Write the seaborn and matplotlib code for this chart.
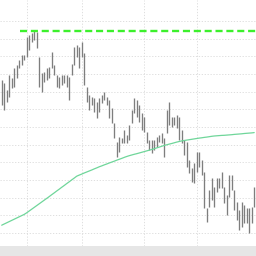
import numpy as np
import pandas as pd
import matplotlib
matplotlib.use("Agg")
import matplotlib.pyplot as plt
import matplotlib.transforms as mtrans
import seaborn as sns

# ---- data (price units) ----
highs = [170, 167, 160, 175, 172, 182, 185, 190, 195, 195, 213, 215, 217, 220, 218,
         193, 177, 178, 182, 183, 198, 185, 175, 173, 175, 175, 175, 173, 186, 203,
         205, 203, 208, 197, 163, 155, 153, 152, 148, 152, 155, 158, 153, 150, 142,
         127, 108, 113, 112, 120, 115, 125, 140, 152, 150, 145, 137, 133, 118, 110,
         110, 110, 113, 115, 117, 112, 140, 148, 133, 133, 135, 133, 120, 110, 108,
         90, 82, 87, 98, 98, 90, 78, 42, 60, 72, 63, 72, 72, 78, 63,
         55, 75, 75, 60, 48, 40, 48, 45, 42, 42, 43, 63]
lows = [145, 140, 148, 153, 162, 163, 172, 182, 185, 190, 193, 200, 208, 210, 202,
        163, 158, 168, 170, 172, 182, 175, 163, 162, 165, 167, 163, 150, 175, 185,
        193, 182, 193, 165, 148, 140, 145, 138, 132, 138, 147, 150, 145, 132, 127,
        112, 93, 98, 107, 107, 107, 110, 127, 137, 133, 128, 120, 118, 107, 100,
        97, 100, 103, 108, 107, 93, 117, 125, 123, 125, 122, 110, 107, 95, 83,
        77, 68, 67, 78, 83, 75, 42, 28, 43, 50, 43, 58, 62, 62, 47,
        35, 53, 60, 40, 30, 20, 23, 27, 27, 17, 27, 43]
moving_avg = [24.8, 26.0, 27.2, 28.4, 29.6, 30.8, 32.0, 33.2, 34.4, 35.6,
              37.2, 39.0, 40.8, 42.6, 44.4, 46.2, 48.0, 49.8, 51.6, 53.4,
              55.3, 57.1, 59.0, 60.8, 62.7, 64.5, 66.4, 68.2, 70.1, 71.9,
              73.8, 74.9, 75.9, 77.0, 78.0, 79.0, 80.0, 81.1, 82.1, 83.2,
              84.1, 85.1, 86.0, 87.0, 87.9, 88.8, 89.8, 90.7, 91.6, 92.6,
              93.5, 94.3, 95.0, 95.7, 96.3, 97.0, 97.7, 98.4, 99.1, 99.8,
              100.5, 101.3, 102.1, 102.9, 103.7, 104.6, 105.2, 105.9, 106.5, 107.2,
              107.9, 108.5, 109.1, 109.5, 109.9, 110.3, 110.7, 111.1, 111.5, 111.9,
              112.2, 112.6, 112.9, 113.3, 113.7, 114.0, 114.2, 114.4, 114.6, 114.7,
              114.9, 115.1, 115.3, 115.6, 115.8, 116.0, 116.2, 116.5, 116.7, 116.9,
              117.1, 117.4]
resistance_level = 219
resistance_start = 7.3
tick_positions = [10, 32, 57, 78]
tick_labels = ["01-Jul-23", "01-Ago-23", "01-Sep-23", "01-Oct-23"]
grid_levels = [17, 34.7, 52.3, 70, 87.7, 105.3, 123, 140.7, 158.3, 176, 193.7, 211.3, 229]

n = len(highs)
idx = np.arange(n)
df = pd.DataFrame({"i": idx, "ma": moving_avg})

sns.set_style("white")
fig = plt.figure(figsize=(2.56, 2.56), dpi=100)
# bottom axis band
fig.patches.append(plt.Rectangle((0, 0), 1, 10 / 256, transform=fig.transFigure,
                                 facecolor="#e6e6e6", edgecolor="none", zorder=0))
ax = fig.add_axes([0, 10 / 256, 1, 246 / 256])
ax.set_facecolor("white")

# grid
for g in grid_levels:
    ax.axhline(g, color="#d9d9d9", lw=0.6, ls=(0, (1.5, 2)), zorder=0)
for t in tick_positions:
    ax.axvline(t, color="#d9d9d9", lw=0.6, ls=(0, (1.5, 2)), zorder=0)

# price bars
ax.vlines(idx, lows, highs, color="#7e7e7e", lw=0.95, zorder=2)

# moving average
sns.lineplot(data=df, x="i", y="ma", ax=ax, color="#6fd69a", lw=0.9, zorder=3,
             legend=False)

# resistance line
ax.hlines(resistance_level, resistance_start, n + 5, color="#3cf02c", lw=1.7,
          ls=(0, (3, 1.6)), zorder=4)

ax.set_xlim(-0.68, 101.72)
ax.set_ylim(4, 250)
ax.set_xlabel("")
ax.set_ylabel("")
ax.set_yticks([])
ax.set_xticks(tick_positions)
ax.set_xticklabels(tick_labels, fontsize=4.3, color="#555555", ha="left")
ax.tick_params(axis="x", length=3, width=0.5, color="#999999", pad=0.5,
               direction="out", bottom=True)
offset = mtrans.ScaledTranslation(1 / 100, 0, fig.dpi_scale_trans)
for lbl in ax.get_xticklabels():
    lbl.set_transform(lbl.get_transform() + offset)
for s in ["top", "right", "left"]:
    ax.spines[s].set_visible(False)
ax.spines["bottom"].set_color("#bbbbbb")
ax.spines["bottom"].set_linewidth(0.6)

fig.savefig("out.png", dpi=100)
